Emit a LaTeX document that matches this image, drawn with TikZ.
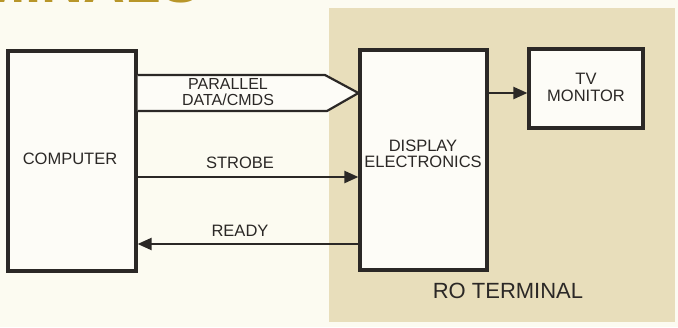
\documentclass[tikz,border=0pt]{standalone}
\usepackage{fontspec}
\setmainfont{Liberation Sans}
\usetikzlibrary{arrows.meta}
\definecolor{paper}{HTML}{FCFBF1}
\definecolor{tanbg}{HTML}{E8DEBB}
\definecolor{boxfill}{HTML}{FDFCF7}
\definecolor{ink}{HTML}{2B2826}
\definecolor{gold}{HTML}{B8962A}
\begin{document}
\begin{tikzpicture}[x=1pt,y=-1pt,
  blk/.style={draw=ink,line width=3.2pt,fill=boxfill,inner sep=0pt},
  lbl/.style={text=ink,font=\fontsize{16.5}{16}\selectfont,align=center,inner sep=0pt},
  conn/.style={draw=ink,line width=2.2pt,-{Triangle[length=14pt,width=12pt]}},
]
\path[fill=paper] (0,0) rectangle (678,327);
\useasboundingbox (0,0) rectangle (678,327);
\begin{scope}
\clip (0,0) rectangle (678,327);
\node[anchor=base east,text=gold,font=\fontsize{58}{58}\bfseries\selectfont,inner sep=0pt] (head) at (200,2.5) {TERMINALS};
\end{scope}
% RO terminal shaded area
\node[fill=tanbg,minimum width=346pt,minimum height=314pt,inner sep=0pt] (ro) at (502,165) {};
\node[lbl,font=\fontsize{22}{22}\selectfont] (rolbl) at (508,291) {RO TERMINAL};
% blocks
\node[blk,minimum width=128pt,minimum height=220pt] (comp) at (72,161) {};
\node[lbl] (complbl) at (70,159) {COMPUTER};
\node[blk,minimum width=127pt,minimum height=220pt] (de) at (423.5,160) {};
\node[lbl] (delbl) at (423,154) {DISPLAY\\ELECTRONICS};
\node[blk,minimum width=114pt,minimum height=79pt] (tv) at (586,88.5) {};
\node[lbl,font=\fontsize{16.5}{17}\selectfont] (tvlbl) at (586,87) {TV\\MONITOR};
% parallel bus
\coordinate (bt) at (325,75);
\coordinate (bb) at (327,111);
\draw[draw=ink,line width=2.2pt,fill=boxfill,line join=miter]
  (comp.east |- bt) -- (bt) -- (de.west |- 0,93) -- (bb) -- (comp.east |- bb);
\node[lbl,font=\fontsize{16}{15.5}\selectfont] (buslbl) at (228,92) {PARALLEL\\DATA/CMDS};
% strobe
\draw[conn] (comp.east |- 0,177) -- (de.west |- 0,177);
\node[lbl] (strobelbl) at (240,163) {STROBE};
% ready
\draw[conn] (de.west |- 0,244) -- (comp.east |- 0,244);
\node[lbl] (readylbl) at (240,231) {READY};
% to TV
\draw[conn] (de.east |- 0,93) -- (tv.west |- 0,93);
\end{tikzpicture}
\end{document}
